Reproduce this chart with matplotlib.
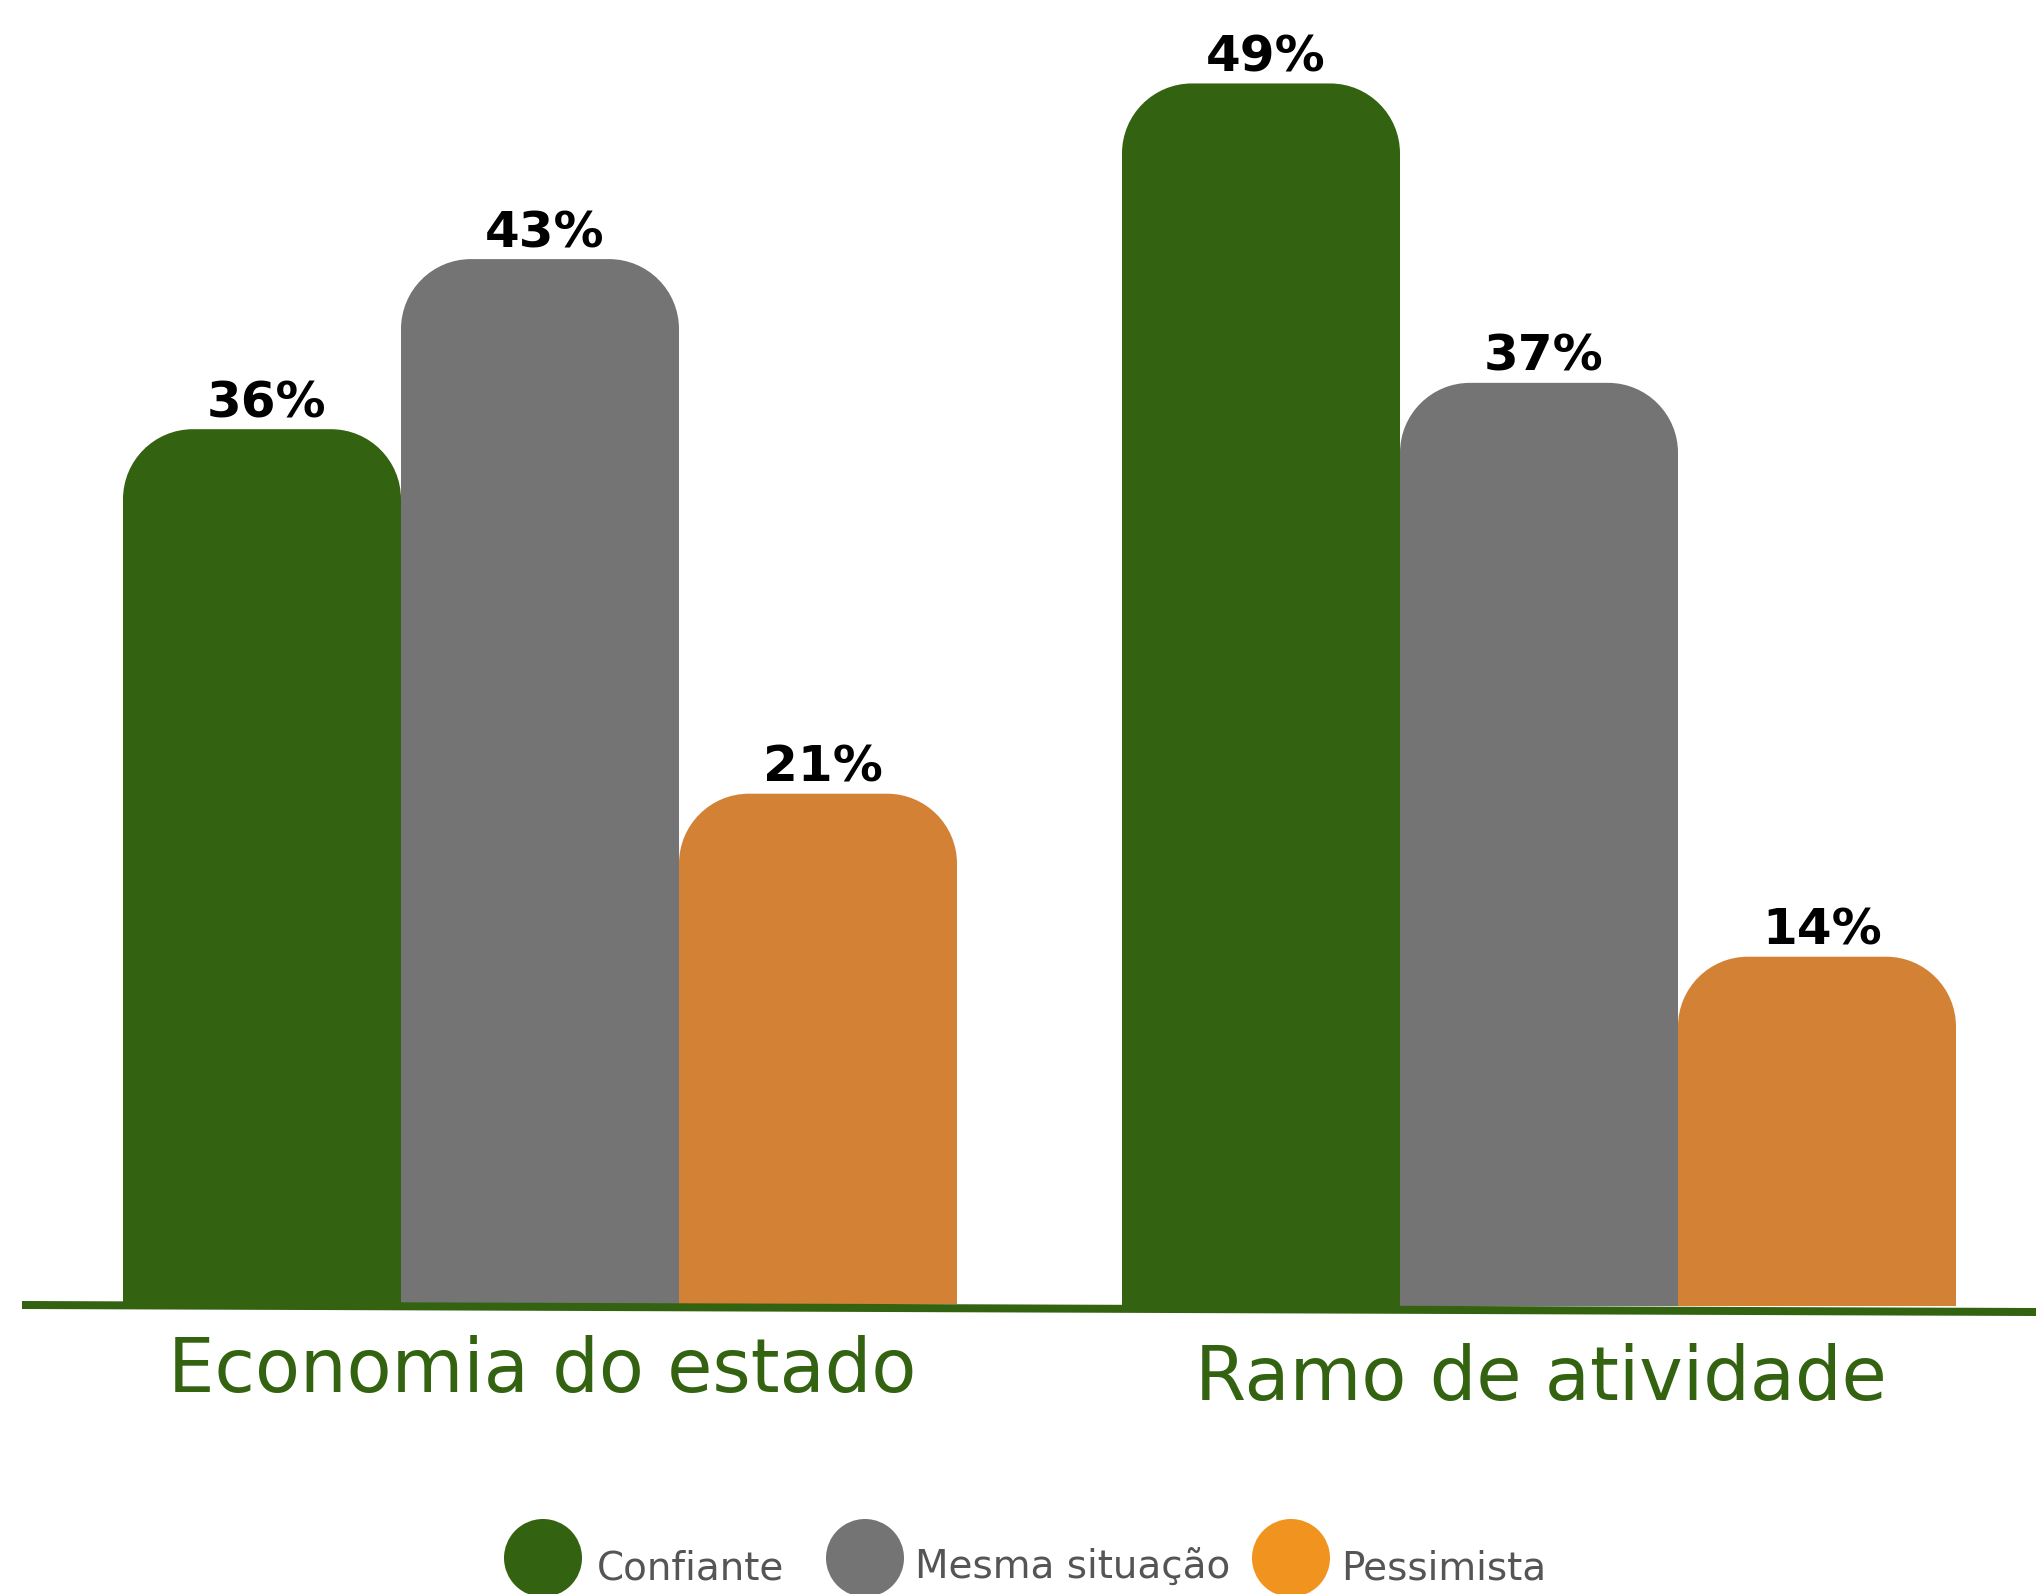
"""
plot.py
Confidence survey: share of respondents by outlook, for the state economy
and for their own line of business. Rounded-top grouped bars, saved to out.png.
"""

import matplotlib
matplotlib.use("Agg")
import matplotlib.pyplot as plt
from matplotlib.patches import Circle, PathPatch
from matplotlib.path import Path

# ---- data ------------------------------------------------------------------
groups = ["Economia do estado", "Ramo de atividade"]
series = ["Confiante", "Mesma situação", "Pessimista"]
confiante = [36, 49]
mesma_situacao = [43, 37]
pessimista = [21, 14]

bar_colors = ["#336311", "#747474", "#D38135"]
legend_colors = ["#336311", "#747474", "#F0931F"]
GREEN = "#336311"

# ---- layout (pixels on a 2036x1594 canvas) ---------------------------------
W, H = 2036, 1594
group_left = [123, 1122]
group_width = 834
baseline_y = [1304, 1306]      # distance from top
px_per_pct = [24.3, 24.95]
cat_offset_px = [88, 94]
RADIUS = 70
PT = 72 / 100                  # px -> points at dpi 100


def rounded_top(x0, x1, y0, y1, rx, ry):
    k = 0.5523
    verts = [(x0, y0), (x0, y1 - ry),
             (x0, y1 - ry + k * ry), (x0 + rx - k * rx, y1), (x0 + rx, y1),
             (x1 - rx, y1),
             (x1 - rx + k * rx, y1), (x1, y1 - ry + k * ry), (x1, y1 - ry),
             (x1, y0), (x0, y0)]
    codes = [Path.MOVETO, Path.LINETO,
             Path.CURVE4, Path.CURVE4, Path.CURVE4,
             Path.LINETO,
             Path.CURVE4, Path.CURVE4, Path.CURVE4,
             Path.LINETO, Path.CLOSEPOLY]
    return Path(verts, codes)


fig = plt.figure(figsize=(W / 100, H / 100), dpi=100)

for i, group in enumerate(groups):
    values = [confiante[i], mesma_situacao[i], pessimista[i]]
    ax = fig.add_axes([group_left[i] / W, (H - baseline_y[i]) / H,
                       group_width / W, baseline_y[i] / H])
    ax.set_xlim(-0.5, 2.5)
    ax.set_ylim(0, baseline_y[i] / px_per_pct[i])
    ax.axis("off")

    bars = ax.bar(range(3), values, width=1.0, color=bar_colors)
    # swap the plain rectangles for rounded-top versions
    p0 = ax.transData.transform((0, 0))
    p1 = ax.transData.transform((1, 1))
    rx = RADIUS / (p1[0] - p0[0])
    ry = RADIUS / (p1[1] - p0[1])
    for rect, color in zip(bars, bar_colors):
        x0, y0 = rect.get_x(), rect.get_y()
        x1, y1 = x0 + rect.get_width(), y0 + rect.get_height()
        rect.set_visible(False)
        ax.add_patch(PathPatch(rounded_top(x0, x1, y0, y1, rx, ry),
                               facecolor=color, edgecolor="none", clip_on=False))

    for x, v in enumerate(values):
        ax.annotate(f"{v}%", xy=(x, v), xytext=(5 * PT, 12 * PT),
                    textcoords="offset points", ha="center", va="baseline",
                    fontsize=36, fontweight="bold", color="black",
                    annotation_clip=False)

    ax.annotate(group, xy=(1, 0), xytext=(2 * PT, -cat_offset_px[i] * PT),
                textcoords="offset points", ha="center", va="baseline",
                fontsize=53, color=GREEN, annotation_clip=False)

# ---- overlay: baseline + legend in pixel coords -----------------------------
ov = fig.add_axes([0, 0, 1, 1], zorder=5)
ov.set_xlim(0, W)
ov.set_ylim(H, 0)
ov.axis("off")

ov.plot([22, W], [1305, 1312], color=GREEN, lw=8 * PT, solid_capstyle="butt")

legend_cx = [543, 865, 1291]
legend_tx = [597, 915, 1341]
for name, color, cx, tx in zip(series, legend_colors, legend_cx, legend_tx):
    ov.add_patch(Circle((cx, 1558), 39, facecolor=color, edgecolor="none",
                        clip_on=False))
    ov.text(tx, 1579, name, ha="left", va="baseline", fontsize=28,
            color="#555555")

fig.savefig("out.png", dpi=100)
